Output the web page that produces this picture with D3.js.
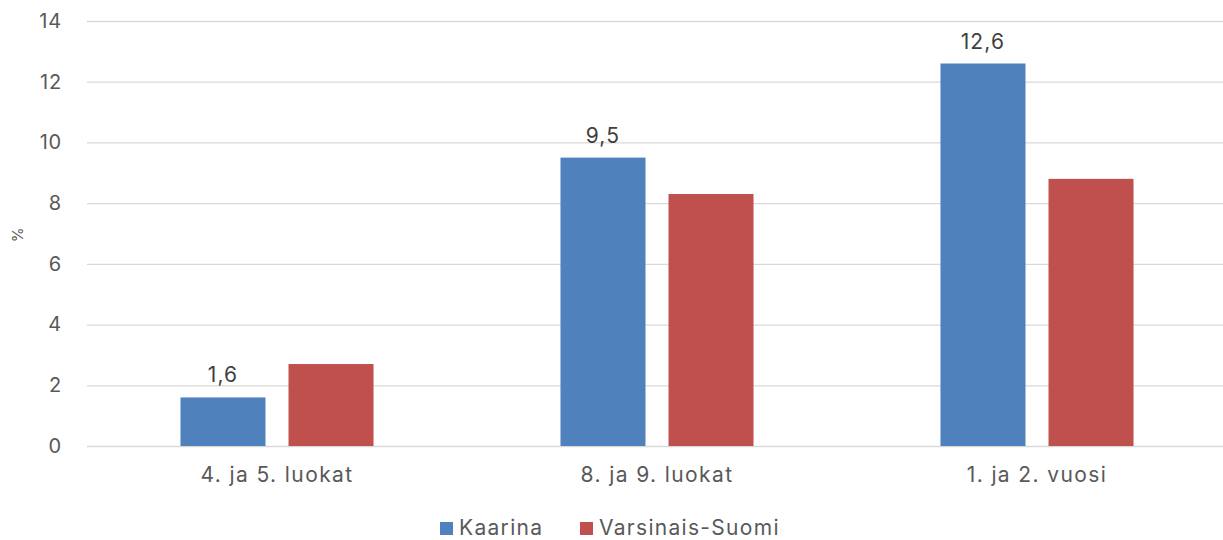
<!DOCTYPE html>
<html><head><meta charset="utf-8">
<script src="https://cdn.jsdelivr.net/npm/d3@7"></script>
<style>body{margin:0;background:#fff;font-family:Inter,"Open Sans",sans-serif;}</style>
</head><body><svg id="c" width="1223" height="540"></svg>
<script>
const categories = ["4. ja 5. luokat", "8. ja 9. luokat", "1. ja 2. vuosi"];
const seriesNames = ["Kaarina", "Varsinais-Suomi"];
const kaarina = [1.6, 9.5, 12.6];
const varsinais = [2.7, 8.3, 8.8];
const yTicks = [0, 2, 4, 6, 8, 10, 12, 14];
const colors = ["#4F81BD", "#C0504D"];

const FONT = "Inter,'Open Sans',sans-serif";
const svg = d3.select("#c");
const m = {left: 87, right: 1227, top: 21, bottom: 446};
const x = d3.scaleBand().domain(categories).range([m.left, m.right]).paddingInner(0).paddingOuter(0);
const bw = x.bandwidth();
const xs = d3.scaleBand().domain(seriesNames).range([bw * 0.246, bw * 0.754]).paddingInner(0.213).paddingOuter(0);
const y = d3.scaleLinear().domain([0, 14]).range([m.bottom, m.top]);

// grid
const yAxis = d3.axisLeft(y).tickValues(yTicks).tickSize(-(m.right - m.left)).tickPadding(25).tickFormat(d3.format("d"));
const ga = svg.append("g").attr("transform", `translate(${m.left},0)`).call(yAxis);
ga.select(".domain").remove();
ga.selectAll(".tick line").attr("stroke", "#d9d9d9").attr("stroke-width", 1.3);
ga.selectAll(".tick text").attr("fill", "#595959").style("font-size", "20px").style("letter-spacing", "0.8px").style("font-family", FONT);

svg.append("text").attr("transform", "translate(23,235) rotate(-90)").attr("text-anchor", "middle")
  .attr("fill", "#595959").style("font-size", "15px").style("font-family", FONT).text("%");

const data = [kaarina, varsinais];
data.forEach((vals, si) => {
  svg.append("g").selectAll("rect").data(vals).join("rect")
    .attr("x", (d, i) => x(categories[i]) + xs(seriesNames[si]))
    .attr("width", xs.bandwidth())
    .attr("y", d => y(d))
    .attr("height", d => y(0) - y(d))
    .attr("fill", colors[si]);
});

// labels for Kaarina
svg.append("g").selectAll("text").data(kaarina).join("text")
  .attr("x", (d, i) => x(categories[i]) + xs(seriesNames[0]) + xs.bandwidth() / 2)
  .attr("y", d => y(d) - 15)
  .attr("text-anchor", "middle").attr("fill", "#404040").style("font-size", "21px").style("letter-spacing", "1.2px").style("font-family", FONT)
  .text(d => String(d).replace(".", ","));

// x axis labels
const xa = d3.axisBottom(x).tickSize(0).tickPadding(21);
const gx = svg.append("g").attr("transform", `translate(0,${m.bottom})`).call(xa);
gx.select(".domain").remove();
gx.selectAll(".tick text").attr("fill", "#595959").style("font-size", "21px").style("letter-spacing", "1.4px").style("font-family", FONT);

// legend
const legendX = [440, 580];
const lg = svg.append("g");
seriesNames.forEach((n, i) => {
  lg.append("rect").attr("x", legendX[i]).attr("y", 522).attr("width", 13).attr("height", 13).attr("fill", colors[i]);
  lg.append("text").attr("x", legendX[i] + 19).attr("y", 535).attr("fill", "#595959").style("font-size", "21px").style("letter-spacing", "1.3px").style("font-family", FONT).text(n);
});
</script></body></html>
